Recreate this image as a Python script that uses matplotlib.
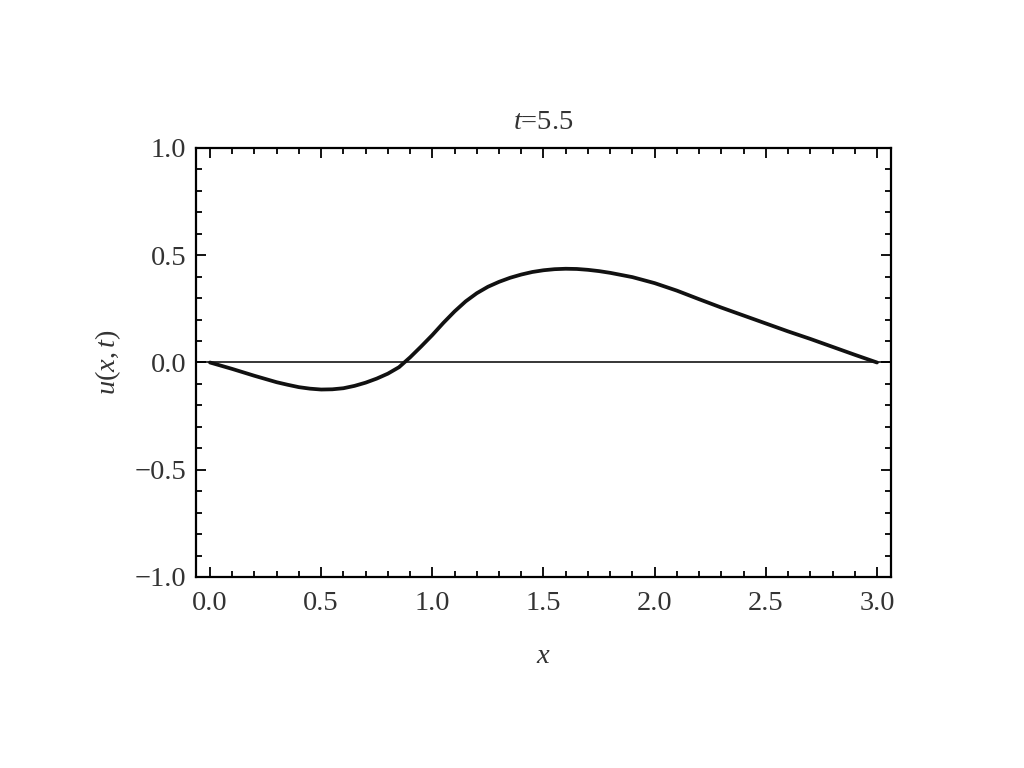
import numpy as np
import matplotlib.pyplot as plt
from matplotlib.ticker import MultipleLocator

# u(x,t) at t=5.5
x_vals = [0.0, 0.1, 0.2, 0.3, 0.35, 0.4, 0.45, 0.5, 0.55, 0.6, 0.65, 0.7,
          0.75, 0.8, 0.85, 0.9, 0.95, 1.0, 1.05, 1.1, 1.15, 1.2, 1.25, 1.3,
          1.35, 1.4, 1.45, 1.5, 1.55, 1.6, 1.65, 1.7, 1.75, 1.8, 1.9, 2.0,
          2.1, 2.2, 2.3, 2.4, 2.5, 2.6, 2.7, 2.8, 2.9, 3.0]
u_vals = [0.0, -0.03, -0.062, -0.092, -0.104, -0.115, -0.122, -0.126, -0.125,
          -0.12, -0.109, -0.094, -0.075, -0.052, -0.022, 0.024, 0.075, 0.128,
          0.185, 0.238, 0.285, 0.323, 0.353, 0.376, 0.395, 0.41, 0.422, 0.43,
          0.435, 0.437, 0.436, 0.432, 0.426, 0.418, 0.398, 0.37, 0.335, 0.295,
          0.256, 0.219, 0.182, 0.145, 0.11, 0.073, 0.036, 0.0]

plt.rcParams['font.family'] = ['Liberation Serif', 'DejaVu Serif']
plt.rcParams['mathtext.fontset'] = 'custom'
plt.rcParams['mathtext.it'] = 'Liberation Serif:italic'
plt.rcParams['mathtext.rm'] = 'Liberation Serif'

fig = plt.figure(figsize=(10.24, 7.68), dpi=100)
ax = fig.add_axes([0.1914, 0.2487, 0.6787, 0.5586])

ax.axhline(0, color='black', lw=1.1, zorder=1)
ax.plot(x_vals, u_vals, color='#111111', lw=2.7, zorder=2,
        solid_joinstyle='round', solid_capstyle='round')

ax.set_xlim(-0.063, 3.063)
ax.set_ylim(-1.0, 1.0)
ax.xaxis.set_major_locator(MultipleLocator(0.5))
ax.xaxis.set_minor_locator(MultipleLocator(0.1))
ax.yaxis.set_major_locator(MultipleLocator(0.5))
ax.yaxis.set_minor_locator(MultipleLocator(0.1))
ax.xaxis.set_major_formatter(lambda v, p: f'{v:.1f}'.replace('-', '\u2212'))
ax.yaxis.set_major_formatter(lambda v, p: f'{v:.1f}'.replace('-', '\u2212'))

ax.tick_params(which='both', direction='in', top=True, right=True,
               labelsize=20.5, labelcolor='#333333', width=1.3)
ax.tick_params(which='major', length=7)
ax.tick_params(which='minor', length=4.2)
ax.tick_params(axis='x', which='major', pad=10)
ax.tick_params(axis='y', which='major', pad=7)
for s in ax.spines.values():
    s.set_linewidth(1.6)

ax.set_title(r'$t$=5.5', fontsize=20.5, color='#333333', pad=14)
ax.set_xlabel(r'$x$', fontsize=20.5, color='#333333', labelpad=20)
ax.set_ylabel(r'$u(x,t)$', fontsize=20.5, color='#333333', labelpad=8)

plt.savefig('out.png', dpi=100)
